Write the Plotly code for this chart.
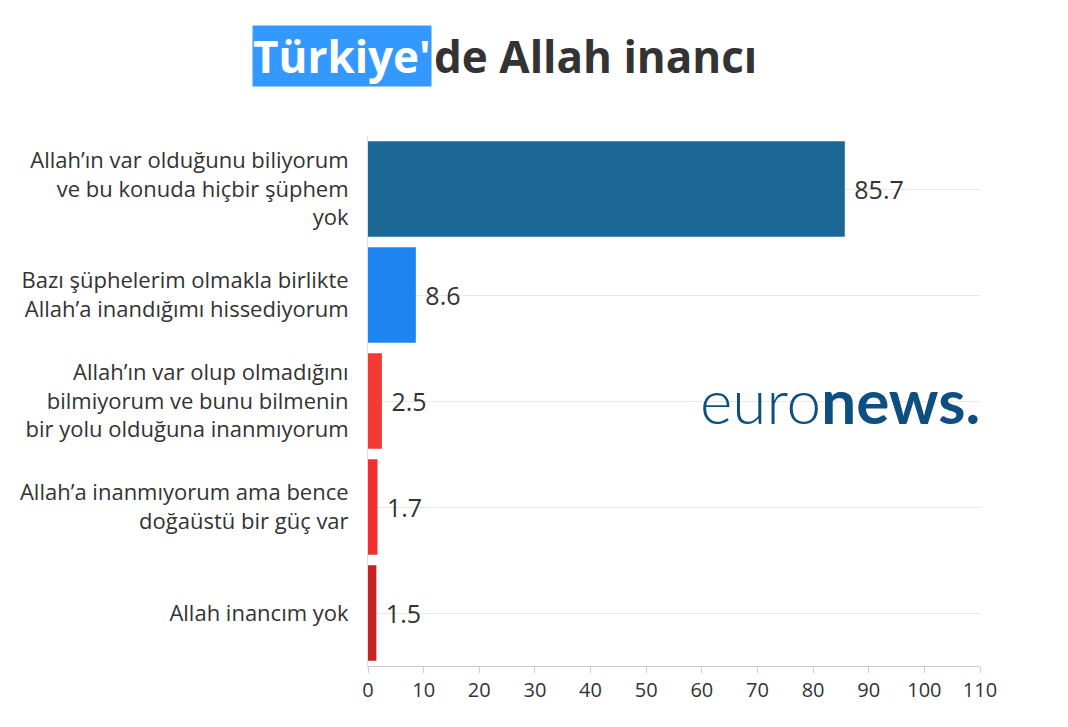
import plotly.graph_objects as go

categories = [
    "Allah’ın var olduğunu biliyorum<br>ve bu konuda hiçbir şüphem<br>yok",
    "Bazı şüphelerim olmakla birlikte<br>Allah’a inandığımı hissediyorum",
    "Allah’ın var olup olmadığını<br>bilmiyorum ve bunu bilmenin<br>bir yolu olduğuna inanmıyorum",
    "Allah’a inanmıyorum ama bence<br>doğaüstü bir güç var",
    "Allah inancım yok",
]
values = [85.7, 8.6, 2.5, 1.7, 1.5]
colors = ["#1b6896", "#1e84f0", "#f33a35", "#f22f2f", "#c82324"]

fig = go.Figure(go.Bar(
    x=values, y=categories, orientation="h",
    marker=dict(color=colors, line=dict(width=0)),
    text=[" " + str(v) for v in values], textposition="outside",
    textfont=dict(size=25, color="#333"), cliponaxis=False,
))
fig.update_layout(
    width=1068, height=727, plot_bgcolor="white", paper_bgcolor="white",
    margin=dict(l=349, r=96, t=128, b=69, pad=0), bargap=0.1, showlegend=False,
    font=dict(family="Open Sans", color="#333"),
    xaxis=dict(range=[0, 110], dtick=10, showgrid=False, showline=True,
               linecolor="#ccc", ticks="outside", ticklen=6, tickcolor="#ccc",
               tickfont=dict(size=20, color="#333")),
    yaxis=dict(autorange="reversed", showgrid=True, gridcolor="#e8e8e8",
               showline=True, linecolor="#ddd", ticks="",
               tickfont=dict(size=22, color="#333"), ticklabelstandoff=14),
    annotations=[
        dict(text="Türkiye'", x=0.105, y=1.151, xref="paper", yref="paper",
             xanchor="right", yanchor="middle", showarrow=False,
             bgcolor="#3399ff", borderpad=0,
             font=dict(size=44, color="white", family="Open Sans", weight="bold")),
        dict(text="de Allah inancı", x=0.105, y=1.151, xref="paper", yref="paper",
             xanchor="left", yanchor="middle", showarrow=False,
             font=dict(size=44, color="#333", family="Open Sans", weight="bold")),
        dict(text="euro<b>news.</b>", x=0.54, y=0.502, xref="paper", yref="paper",
             xanchor="left", yanchor="middle", showarrow=False,
             font=dict(size=62, color="#0d4f80", family="Lato", weight=300)),
    ],
)
fig.write_html("out.html")
